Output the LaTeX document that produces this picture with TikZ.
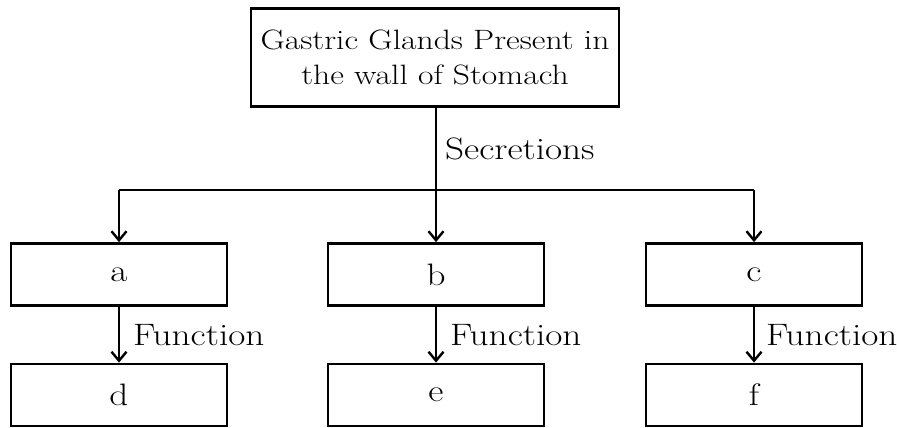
\documentclass[tikz,border=0pt]{standalone}
\usepackage{fontspec}
\setmainfont{Latin Modern Roman}[FakeStretch=1.2]
\usetikzlibrary{arrows.meta}
\begin{document}
\begin{tikzpicture}[x=1pt,y=-1pt,
  every node/.style={font=\fontsize{31}{36}\selectfont},
  box/.style={draw, line width=2.8pt, minimum width=216pt, minimum height=62pt, inner sep=0pt},
  conn/.style={line width=2.4pt},
  arr/.style={conn, -{Straight Barb[length=9pt,width=15pt,line width=2.4pt]}},
  lbl/.style={anchor=west, inner sep=0pt}]
\useasboundingbox (0,0) rectangle (897,428);
\node[box, minimum width=368pt, minimum height=98pt, align=center, font=\fontsize{28}{35}\selectfont] (top) at (435,57.5) {Gastric Glands Present in\\the wall of Stomach};
\node[box] (a) at (119,274.5) {a};
\node[box] (b) at (436,274.5) {b};
\node[box] (c) at (754,274.5) {c};
\node[box] (d) at (119,395) {d};
\node[box] (e) at (436,395) {e};
\node[box] (f) at (754,395) {f};
\coordinate (j) at (436,190);
\draw[conn] (top.south -| j) -- (j);
\node[lbl] (sec) at (445,149) {Secretions};
\draw[conn] (a.north |- j) -- (c.north |- j);
\draw[arr] (a.north |- j) -- (a.north);
\draw[arr] (j) -- (b.north);
\draw[arr] (c.north |- j) -- (c.north);
\draw[arr] (a) -- (d);
\draw[arr] (b) -- (e);
\draw[arr] (c) -- (f);
\node[lbl] (fa) at (133,335) {Function};
\node[lbl] (fb) at (450,335) {Function};
\node[lbl] (fc) at (766,335) {Function};
\end{tikzpicture}
\end{document}
